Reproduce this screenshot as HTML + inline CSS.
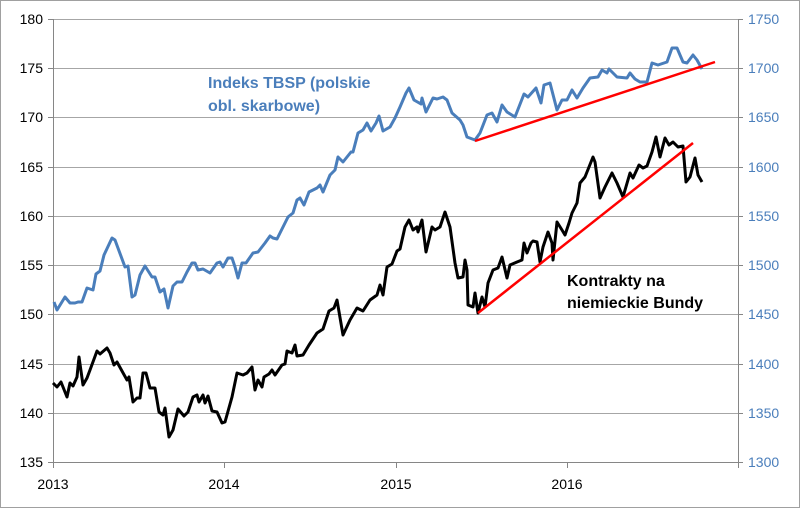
<!DOCTYPE html>
<html><head><meta charset="utf-8"><style>
html,body{margin:0;padding:0;background:#fff}
svg{display:block;font-family:"Liberation Sans",sans-serif}
</style></head><body>
<svg width="800" height="508" viewBox="0 0 800 508">
<rect x="0.5" y="0.5" width="799" height="507" fill="#fff" stroke="#a0a0a0"/>
<g stroke="#a6a6a6" stroke-width="1">
<line x1="53" y1="19.5" x2="738" y2="19.5"/>
<line x1="53" y1="68.5" x2="738" y2="68.5"/>
<line x1="53" y1="117.5" x2="738" y2="117.5"/>
<line x1="53" y1="167.5" x2="738" y2="167.5"/>
<line x1="53" y1="216.5" x2="738" y2="216.5"/>
<line x1="53" y1="265.5" x2="738" y2="265.5"/>
<line x1="53" y1="314.5" x2="738" y2="314.5"/>
<line x1="53" y1="364.5" x2="738" y2="364.5"/>
<line x1="53" y1="413.5" x2="738" y2="413.5"/>
</g>
<g stroke="#868686" stroke-width="1">
<line x1="53.5" y1="19" x2="53.5" y2="462"/>
<line x1="738.5" y1="19" x2="738.5" y2="462"/>
<line x1="53" y1="462.5" x2="738" y2="462.5"/>
<line x1="53.5" y1="462" x2="53.5" y2="468"/>
<line x1="224.5" y1="462" x2="224.5" y2="468"/>
<line x1="396.5" y1="462" x2="396.5" y2="468"/>
<line x1="567.5" y1="462" x2="567.5" y2="468"/>
<line x1="738.5" y1="462" x2="738.5" y2="468"/>
<g>
<line x1="48" y1="19.5" x2="53" y2="19.5"/><line x1="48" y1="68.5" x2="53" y2="68.5"/><line x1="48" y1="117.5" x2="53" y2="117.5"/><line x1="48" y1="167.5" x2="53" y2="167.5"/><line x1="48" y1="216.5" x2="53" y2="216.5"/><line x1="48" y1="265.5" x2="53" y2="265.5"/><line x1="48" y1="314.5" x2="53" y2="314.5"/><line x1="48" y1="364.5" x2="53" y2="364.5"/><line x1="48" y1="413.5" x2="53" y2="413.5"/><line x1="48" y1="462.5" x2="53" y2="462.5"/>
<line x1="738" y1="19.5" x2="743" y2="19.5"/><line x1="738" y1="68.5" x2="743" y2="68.5"/><line x1="738" y1="117.5" x2="743" y2="117.5"/><line x1="738" y1="167.5" x2="743" y2="167.5"/><line x1="738" y1="216.5" x2="743" y2="216.5"/><line x1="738" y1="265.5" x2="743" y2="265.5"/><line x1="738" y1="314.5" x2="743" y2="314.5"/><line x1="738" y1="364.5" x2="743" y2="364.5"/><line x1="738" y1="413.5" x2="743" y2="413.5"/><line x1="738" y1="462.5" x2="743" y2="462.5"/>
</g></g>
<g font-size="14" fill="#000" text-anchor="end">
<text x="43" y="24">180</text><text x="43" y="73">175</text><text x="43" y="122">170</text><text x="43" y="172">165</text><text x="43" y="221">160</text><text x="43" y="270">155</text><text x="43" y="319">150</text><text x="43" y="369">145</text><text x="43" y="418">140</text><text x="43" y="467">135</text>
</g>
<g font-size="14" fill="#4a7ebb">
<text x="748" y="24">1750</text><text x="748" y="73">1700</text><text x="748" y="122">1650</text><text x="748" y="172">1600</text><text x="748" y="221">1550</text><text x="748" y="270">1500</text><text x="748" y="319">1450</text><text x="748" y="369">1400</text><text x="748" y="418">1350</text><text x="748" y="467">1300</text>
</g>
<g font-size="14" fill="#000" text-anchor="middle">
<text x="53" y="489">2013</text><text x="224" y="489">2014</text><text x="396" y="489">2015</text><text x="567" y="489">2016</text>
</g>
<polyline fill="none" stroke="#4a7ebb" stroke-width="3" stroke-linejoin="round" points="54,302 57,310 65,297 70,303 75,303 78,302 82,302 87,288 93,290 96,274 100,271 104,255 112,238 115,240 125,267 128,266 132,297 135,295 140,275 145,266 152,277 155,277 160,292 164,289 168,308 173,286 177,282 182,282 187,272 192,263 195,263 198,270 203,269 210,273 217,263 220,262 223,267 228,258 232,258 235,267 238,278 242,263 246,263 253,253 258,252 265,243 270,236 273,238 277,239 283,227 288,217 293,213 297,200 300,198 304,205 309,192 317,188 320,185 323,192 330,175 335,170 338,157 343,162 347,157 351,152 353,152 358,133 363,130 367,123 371,131 376,123 379,116 383,131 390,127 395,118 400,107 406,93 409,88 414,100 421,104 422,98 426,112 433,98 437,99 443,97 447,100 452,113 460,120 463,125 467,137 475,140 480,133 487,115 492,113 497,122 502,105 507,112 515,117 524,94 528,97 536,88 541,103 544,85 550,83 557,110 562,100 567,100 572,90 577,98 583,88 590,78 598,77 602,70 607,73 609,69 617,77 627,78 630,73 635,79 640,82 647,82 652,63 658,65 667,62 672,48 677,48 683,62 687,63 693,55 697,60 702,69"/>
<polyline fill="none" stroke="#000" stroke-width="3" stroke-linejoin="round" points="53,383 57,387 61,382 67,397 70,383 73,386 77,377 79,357 83,385 87,378 90,370 97,351 100,354 107,348 110,353 114,365 117,362 127,380 129,377 133,402 137,398 140,398 143,373 146,373 150,388 155,388 159,412 163,415 165,408 169,437 173,430 178,409 184,416 188,412 193,397 197,395 199,402 203,395 205,403 208,396 212,411 217,412 222,423 225,422 232,397 237,373 243,375 247,373 252,367 255,390 258,380 262,387 264,377 269,374 272,370 275,375 282,365 285,364 287,351 292,353 295,345 297,356 303,355 309,345 317,333 323,329 329,311 334,308 337,300 343,335 350,320 357,308 363,311 370,300 377,295 380,285 383,295 387,267 392,264 397,251 400,249 405,227 409,220 413,230 417,227 418,232 422,220 426,252 432,227 435,230 440,227 445,212 450,227 455,263 458,278 463,277 465,260 467,270 468,305 473,307 475,293 478,313 482,297 485,307 488,283 493,270 498,268 502,257 507,278 510,265 517,262 522,260 524,243 527,253 531,243 533,241 537,242 540,262 543,247 548,232 552,243 553,260 557,222 562,230 565,235 569,223 572,213 577,203 580,183 585,177 593,157 595,162 600,198 605,187 612,173 617,183 623,197 630,173 633,178 639,165 643,168 647,166 652,152 656,137 660,157 665,138 669,145 673,142 678,147 683,146 686,182 690,177 695,158 698,175 702,182"/>
<line x1="475" y1="141" x2="715" y2="62" stroke="#ff0000" stroke-width="2.5"/>
<line x1="478" y1="313" x2="693" y2="143" stroke="#ff0000" stroke-width="2.5"/>
<g font-size="16" font-weight="bold" fill="#4a7ebb">
<text x="208" y="88">Indeks TBSP (polskie</text>
<text x="208" y="111">obl. skarbowe)</text>
</g>
<g font-size="16" font-weight="bold" fill="#000">
<text x="567" y="286">Kontrakty na</text>
<text x="567" y="308">niemieckie Bundy</text>
</g>
</svg>
</body></html>
